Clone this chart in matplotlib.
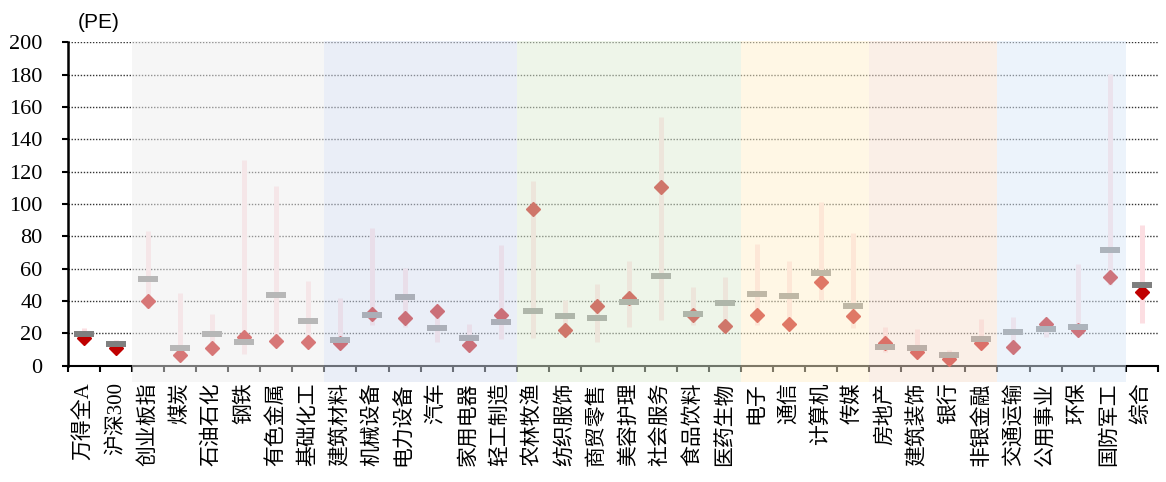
import numpy as np
import matplotlib
matplotlib.use("Agg")
import matplotlib.pyplot as plt
from matplotlib.patches import Rectangle
from matplotlib.ticker import MultipleLocator

# industry names (x axis)
names = ["万得全A", "沪深300", "创业板指", "煤炭", "石油石化", "钢铁", "有色金属", "基础化工",
         "建筑材料", "机械设备", "电力设备", "汽车", "家用电器", "轻工制造",
         "农林牧渔", "纺织服饰", "商贸零售", "美容护理", "社会服务", "食品饮料", "医药生物",
         "电子", "通信", "计算机", "传媒",
         "房地产", "建筑装饰", "银行", "非银金融",
         "交通运输", "公用事业", "环保", "国防军工", "综合"]

# current PE (diamond)
pe_now = [17.4, 11.2, 40.2, 6.6, 11.1, 17.6, 15.5, 14.8, 14.2, 32.0, 29.3, 33.6, 12.8, 31.1,
          97.1, 22.1, 37.1, 42.1, 110.3, 31.4, 24.7, 31.5, 25.8, 51.8, 30.7,
          13.8, 8.7, 3.9, 13.8, 11.4, 25.8, 22.1, 55.0, 45.6]
# median PE (grey dash)
pe_mid = [19.6, 13.2, 53.4, 11.1, 19.4, 14.5, 43.5, 27.6, 15.9, 31.5, 42.5, 23.3, 17.3, 26.8,
          33.6, 30.5, 29.3, 39.4, 55.5, 32.2, 38.8, 44.5, 43.1, 57.4, 37.1,
          11.8, 11.1, 6.8, 16.3, 20.8, 22.5, 24.1, 71.5, 49.7]
# historical max / min (pink bar)
pe_max = [23.3, 15.9, 83.3, 44.8, 31.8, 127.2, 111.1, 52.4, 41.7, 85.0, 60.6, 35.5, 25.8, 74.6,
          114.1, 40.6, 50.5, 64.7, 154.0, 48.9, 55.0, 75.3, 64.7, 101.4, 81.9,
          23.7, 22.5, 9.7, 28.9, 29.9, 27.0, 62.9, 180.4, 86.8]
pe_min = [14.0, 9.0, 35.7, 5.0, 10.0, 7.0, 14.0, 13.0, 12.0, 25.2, 24.0, 14.5, 11.0, 16.7,
          16.9, 19.0, 14.8, 24.1, 28.3, 25.2, 22.0, 25.2, 24.0, 40.6, 23.1,
          8.7, 7.0, 3.5, 12.0, 10.0, 18.0, 20.0, 50.0, 26.2]

# sector groups: first index, last index
group_start = [2, 8, 14, 21, 25, 29]
group_end = [7, 13, 20, 24, 28, 32]
group_colors = ["#efefef", "#d7dff1", "#dfedd5", "#fff1cd", "#f7e1d1", "#dbe9f9"]

x = np.arange(len(names))

fig = plt.figure(figsize=(11.66, 4.82), dpi=100)
ax = fig.add_axes([68 / 1166, 0.2413, (1157.7 - 68) / 1166, 0.671])

ax.vlines(x, pe_min, pe_max, color="#fcdee2", lw=3.6, zorder=2)
ax.plot(x, pe_now, linestyle="none", marker="D", markersize=7.6, color="#c00000", zorder=3)
ax.plot(x, pe_mid, linestyle="none", marker="_", markersize=14.5, markeredgewidth=4.3,
        color="#7f7f7f", zorder=4)

# coloured bands over the sectors
for s, e, c in zip(group_start, group_end, group_colors):
    ax.add_patch(Rectangle((s - 0.5, -10), e - s + 1, 210.8, facecolor=c, edgecolor="none",
                           alpha=0.5, zorder=5, clip_on=False))

ax.set_xlim(-0.5, len(names) - 0.5)
ax.set_ylim(0, 200)
ax.yaxis.set_major_locator(MultipleLocator(20))
ax.yaxis.grid(True, linestyle=(0, (1, 1.2)), color="#333333", lw=1)

ax.set_xticks(x)
ax.set_xticks(np.arange(len(names) + 1) - 0.5, minor=True)
ax.set_xticklabels(names, rotation=90, va="top", ha="center", fontsize=15,
                   family=["Liberation Serif", "Noto Sans CJK SC"])
ax.tick_params(axis="x", which="major", length=0, pad=12)
ax.tick_params(axis="x", which="minor", length=4, width=1.5, color="black")
ax.tick_params(axis="y", length=4.3, width=1.5, pad=14, labelsize=16,
               labelfontfamily="Liberation Serif")

for side in ["top", "right"]:
    ax.spines[side].set_visible(False)
ax.spines["left"].set_linewidth(1.8)
ax.spines["bottom"].set_linewidth(1.5)

fig.text(78 / 1166, 1 - 22 / 482, "(PE)", ha="left", va="center", fontsize=15,
         family="Liberation Sans")

fig.savefig("out.png", dpi=100)
